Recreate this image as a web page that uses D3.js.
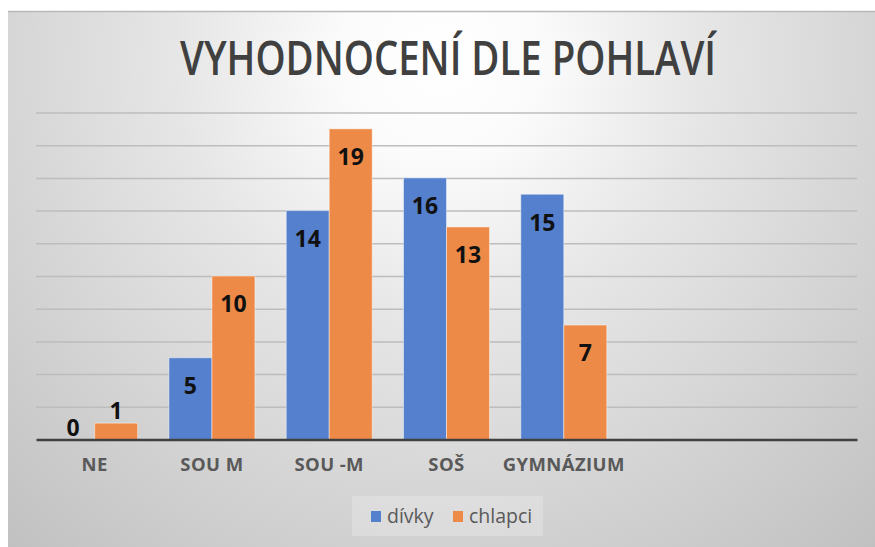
<!DOCTYPE html>
<html>
<head>
<meta charset="utf-8">
<script src="https://cdn.jsdelivr.net/npm/d3@7"></script>
<style>
  body { margin: 0; background: #ffffff; }
  svg { display: block; }
</style>
</head>
<body>
<svg id="chart" width="875" height="547"></svg>
<script>
// data
const categories = ['NE', 'SOU M', 'SOU -M', 'SOŠ', 'GYMNÁZIUM', '', ''];
const seriesNames = ['dívky', 'chlapci'];
const divky = [0, 5, 14, 16, 15];
const chlapci = [1, 10, 19, 13, 7];
const yTicks = [0, 2, 4, 6, 8, 10, 12, 14, 16, 18, 20];
const title = 'VYHODNOCENÍ DLE POHLAVÍ';

const colors = ['#5580cd', '#ee8a47'];
const series = [divky, chlapci];

const svg = d3.select('#chart');
const margin = { left: 36, right: 18, top: 112.5, bottom: 107.5 };
const width = 875, height = 547;

// background with radial gradient like the office chart area
const defs = svg.append('defs');
const grad = defs.append('radialGradient')
    .attr('id', 'bg')
    .attr('gradientUnits', 'userSpaceOnUse')
    .attr('cx', 440).attr('cy', 60).attr('r', 660);
[[0, '#ffffff'], [0.15, '#fbfbfb'], [0.4, '#e6e6e6'], [0.65, '#d6d6d6'], [1, '#c0c0c0']]
    .forEach(s => grad.append('stop').attr('offset', s[0]).attr('stop-color', s[1]));

svg.append('rect')
    .attr('x', 8).attr('y', 11)
    .attr('width', width - 8).attr('height', height - 11)
    .attr('fill', 'url(#bg)');
svg.append('line')
    .attr('x1', 8).attr('x2', width)
    .attr('y1', 11.5).attr('y2', 11.5)
    .attr('stroke', '#b9b9b9').attr('stroke-width', 1.5);

// scales
const x0 = d3.scaleBand()
    .domain(d3.range(categories.length))
    .range([margin.left, width - margin.right]);

const x1 = d3.scaleBand()
    .domain(seriesNames)
    .range([0, x0.bandwidth()])
    .paddingOuter(0.364);

const y = d3.scaleLinear()
    .domain([0, 20])
    .range([height - margin.bottom, margin.top]);

// grid lines (ticks extended across the plot, text hidden)
const yGrid = d3.axisRight(y).tickValues(yTicks.slice(1)).tickSize(width - margin.left - margin.right);
svg.append('g')
    .attr('transform', `translate(${margin.left},0)`)
    .call(yGrid)
    .call(g => g.select('.domain').remove())
    .call(g => g.selectAll('.tick text').remove())
    .selectAll('.tick line')
    .attr('stroke', '#bdbdbd')
    .attr('stroke-width', 1.5);

// bars
series.forEach((vals, si) => {
    svg.append('g')
        .selectAll('rect')
        .data(vals)
        .enter()
        .append('rect')
        .attr('x', (d, i) => x0(i) + x1(seriesNames[si]))
        .attr('y', d => y(d))
        .attr('width', x1.bandwidth())
        .attr('height', d => y(0) - y(d))
        .attr('fill', colors[si])
        .attr('stroke', 'rgba(255,255,255,0.45)')
        .attr('stroke-width', 1);
});

// base axis line
const xAxis = d3.axisBottom(x0).tickSize(0).tickPadding(18).tickFormat(i => categories[i]);
svg.append('g')
    .attr('transform', `translate(0,${y(0)})`)
    .call(xAxis)
    .call(g => g.select('.domain')
        .attr('stroke', '#404040')
        .attr('stroke-width', 2.5))
    .selectAll('.tick text')
    .attr('fill', '#595959')
    .attr('font-family', 'Open Sans, sans-serif')
    .attr('font-weight', 700)
    .attr('font-size', '18.5px')
    .attr('letter-spacing', '0.4px');

// data labels: inside end when bar is tall enough, above otherwise
series.forEach((vals, si) => {
    svg.append('g')
        .selectAll('text')
        .data(vals)
        .enter()
        .append('text')
        .attr('x', (d, i) => x0(i) + x1(seriesNames[si]) + x1.bandwidth() / 2)
        .attr('y', d => (y(0) - y(d) > 40) ? y(d) + 28 : y(d) - 12)
        .attr('dy', '0.36em')
        .attr('text-anchor', 'middle')
        .attr('fill', '#111111')
        .attr('font-family', 'Open Sans, sans-serif')
        .attr('font-weight', 700)
        .attr('font-size', '23px')
        .text(d => d);
});

// title
svg.append('text')
    .attr('x', 448)
    .attr('y', 75)
    .attr('text-anchor', 'middle')
    .attr('fill', '#404040')
    .attr('font-family', 'Open Sans, sans-serif')
    .attr('font-weight', 600)
    .attr('font-size', '47px')
    .attr('textLength', 536)
    .attr('lengthAdjust', 'spacingAndGlyphs')
    .text(title);

// legend
const legend = svg.append('g');
legend.append('rect')
    .attr('x', 352).attr('y', 496)
    .attr('width', 191).attr('height', 40)
    .attr('fill', '#ffffff').attr('opacity', 0.22);

const legendX = [371, 453];
seriesNames.forEach((name, si) => {
    legend.append('rect')
        .attr('x', legendX[si]).attr('y', 511)
        .attr('width', 10).attr('height', 11)
        .attr('fill', colors[si]);
    legend.append('text')
        .attr('x', legendX[si] + 16).attr('y', 516)
        .attr('dy', '0.35em')
        .attr('fill', '#595959')
        .attr('font-family', 'Open Sans, sans-serif')
        .attr('font-size', '19.5px')
        .text(name);
});
</script>
</body>
</html>
